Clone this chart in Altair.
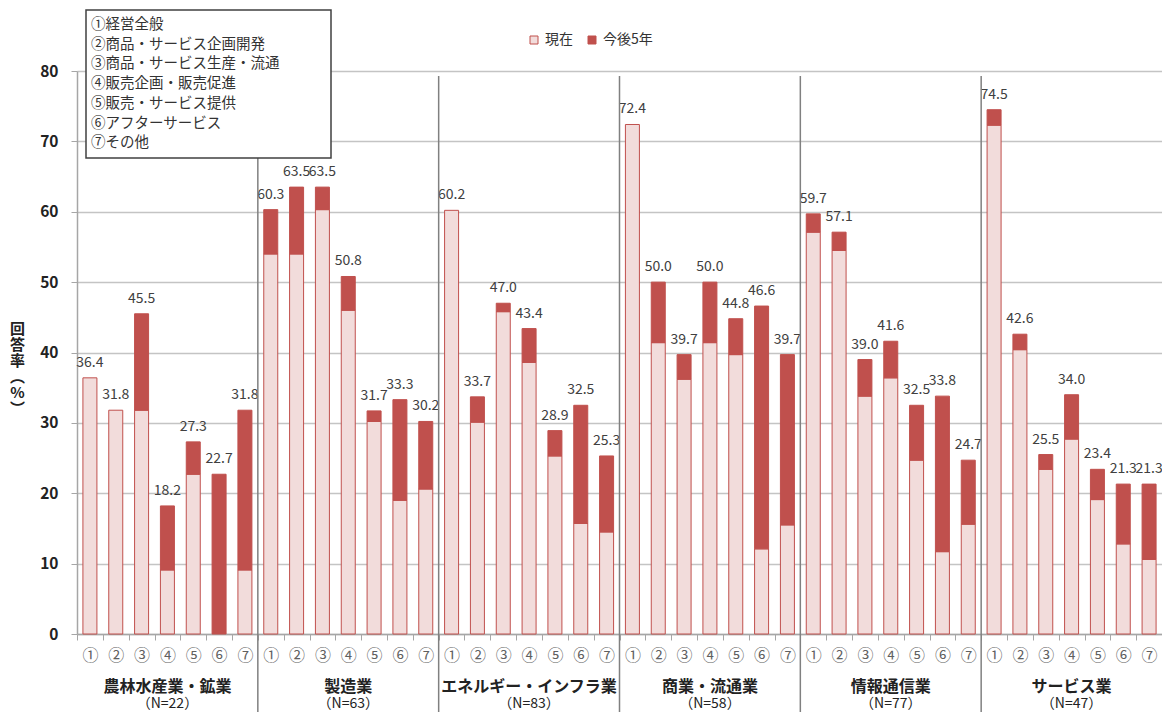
import altair as alt
import pandas as pd

# Industry groups and respondent counts
groups = ["農林水産業・鉱業", "製造業", "エネルギー・インフラ業", "商業・流通業", "情報通信業", "サービス業"]
group_n = [22, 63, 83, 58, 77, 47]

# Business functions (short marks on the axis, full names in the key box)
items = ["①", "②", "③", "④", "⑤", "⑥", "⑦"]
item_names = ["①経営全般", "②商品・サービス企画開発", "③商品・サービス生産・流通",
              "④販売企画・販売促進", "⑤販売・サービス提供", "⑥アフターサービス", "⑦その他"]

series = ["現在", "今後5年"]

# Response rate (%) now
now_vals = [
    [36.4, 31.8, 31.8, 9.1, 22.7, 0.0, 9.1],
    [54.0, 54.0, 60.3, 46.0, 30.2, 19.0, 20.6],
    [60.2, 30.1, 45.8, 38.6, 25.3, 15.7, 14.5],
    [72.4, 41.4, 36.2, 41.4, 39.7, 12.1, 15.5],
    [57.1, 54.5, 33.8, 36.4, 24.7, 11.7, 15.6],
    [72.3, 40.4, 23.4, 27.7, 19.1, 12.8, 10.6],
]
# Response rate (%) in five years
future_vals = [
    [36.4, 31.8, 45.5, 18.2, 27.3, 22.7, 31.8],
    [60.3, 63.5, 63.5, 50.8, 31.7, 33.3, 30.2],
    [60.2, 33.7, 47.0, 43.4, 28.9, 32.5, 25.3],
    [72.4, 50.0, 39.7, 50.0, 44.8, 46.6, 39.7],
    [59.7, 57.1, 39.0, 41.6, 32.5, 33.8, 24.7],
    [74.5, 42.6, 25.5, 34.0, 23.4, 21.3, 21.3],
]

FONT = "Noto Sans CJK JP"
PINK = "#F2DCDB"
RED = "#C0504D"
AXIS_GRAY = "#A6A6A6"

keys = [f"{g}|{it}" for g in range(len(groups)) for it in items]

rows, seg_rows = [], []
for gi in range(len(groups)):
    for ii, it in enumerate(items):
        k = f"{gi}|{it}"
        n, f = now_vals[gi][ii], future_vals[gi][ii]
        rows.append({"key": k, "now": n, "future": f})
        seg_rows.append({"key": k, "series": series[0], "lo": 0.0, "hi": n})
        seg_rows.append({"key": k, "series": series[1], "lo": n, "hi": f})

bars_df = pd.DataFrame(rows)
seg_df = pd.DataFrame(seg_rows)
grp_df = pd.DataFrame({
    "key": [f"{gi}|{items[3]}" for gi in range(len(groups))],
    "name": groups,
    "n": [f"（N={n}）" for n in group_n],
})
sep_df = pd.DataFrame({"key": [f"{gi}|{items[0]}" for gi in range(1, len(groups))]})
box_df = pd.DataFrame({"txt": ["\n".join(item_names)]})

xscale = alt.Scale(domain=keys, paddingInner=0, paddingOuter=0)
yscale = alt.Scale(domain=[0, 80], nice=False)

x_axis = alt.Axis(
    labelExpr="split(datum.label, '|')[1]", labelAngle=0, tickBand="extent",
    tickSize=6, tickColor=AXIS_GRAY, domainColor=AXIS_GRAY, domainWidth=1.5,
    labelFont=FONT, labelFontSize=16, labelColor="#606060", labelPadding=7,
    grid=False)
y_title = ["回", "答", "率", "︵", "%", "︶"]
y_axis = alt.Axis(
    values=list(range(0, 81, 10)), grid=True, gridColor="#C4C4C4", gridWidth=1.6,
    tickSize=6, tickColor=AXIS_GRAY, domainColor=AXIS_GRAY, domainWidth=1.5,
    labelFont=FONT, labelFontSize=15.5, labelFontWeight="bold", labelColor="#222222",
    labelPadding=13,
    titleFont=FONT, titleFontSize=15, titleFontWeight="bold", titleColor="#222222",
    titleAngle=0, titleAlign="center", titleBaseline="top", titleLineHeight=16,
    titleX=-60, titleY=250)


def xk(**kw):
    return alt.X("key:N", scale=xscale, axis=x_axis, title=None, **kw)


bars = alt.Chart(seg_df).transform_filter("datum.hi > datum.lo").mark_bar(
    size=14, stroke=RED, strokeWidth=1
).encode(
    x=xk(),
    y=alt.Y("hi:Q", scale=yscale, title=y_title, axis=y_axis),
    y2="lo:Q",
    color=alt.Color("series:N", scale=alt.Scale(domain=series, range=[PINK, RED]),
                    legend=alt.Legend(title=None, orient="none", direction="horizontal",
                                      legendX=450, legendY=-38, symbolType="square",
                                      symbolSize=64, symbolStrokeColor=RED,
                                      symbolStrokeWidth=1, labelFont=FONT,
                                      labelFontSize=14, labelColor="#333333",
                                      labelOffset=4, columnPadding=12)),
)

labels = alt.Chart(bars_df).mark_text(
    font=FONT, fontSize=14, color="#404040", baseline="alphabetic", dy=-11
).encode(
    x=xk(),
    y=alt.Y("future:Q", scale=yscale, title=y_title, axis=y_axis),
    text=alt.Text("future:Q", format=".1f"),
)

seps = alt.Chart(sep_df).mark_rule(color="#808080", strokeWidth=1.5).encode(
    x=xk(bandPosition=0),
    y=alt.value(5),
    y2=alt.value(650),
)

grp_names = alt.Chart(grp_df).mark_text(
    font=FONT, fontSize=16, fontWeight="bold", color="#222222", baseline="middle"
).encode(
    x=xk(),
    y=alt.value(616),
    text="name:N",
)

grp_n = alt.Chart(grp_df).mark_text(
    font=FONT, fontSize=14, color="#222222", baseline="middle"
).encode(
    x=xk(),
    y=alt.value(633),
    text="n:N",
)

box = alt.Chart(box_df).mark_rect(fill="white", stroke="#404040", strokeWidth=1.5).encode(
    x=alt.value(9), x2=alt.value(254), y=alt.value(-61), y2=alt.value(87)
)

box_text = alt.Chart(box_df).mark_text(
    font=FONT, fontSize=14.5, color="#333333", align="left", baseline="middle",
    lineBreak="\n", lineHeight=19.7
).encode(
    x=alt.value(14), y=alt.value(-46), text="txt:N"
)

chart = alt.layer(bars, labels, seps, grp_names, grp_n, box, box_text).properties(
    width=1085, height=563,
    padding={"left": 77, "top": 71, "right": 0, "bottom": 78},
    autosize=alt.AutoSizeParams(type="none"),
    background="white",
).configure_view(stroke=None)

chart.save("out.html", embed_options={"renderer": "svg", "actions": False})
